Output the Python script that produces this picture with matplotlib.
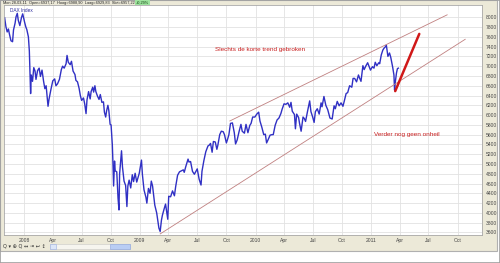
import matplotlib
matplotlib.use('Agg')
import matplotlib.pyplot as plt
import matplotlib.patches as mpatches
import pandas as pd

plt.rcParams['font.family'] = ['Liberation Sans', 'DejaVu Sans']

# DAX closes (roughly weekly)
dates = [
    '2007-11-01', '2007-11-05', '2007-11-09', '2007-11-13', '2007-11-16', '2007-11-21', '2007-11-26',
    '2007-11-29', '2007-12-04', '2007-12-07', '2007-12-11', '2007-12-14', '2007-12-19', '2007-12-24',
    '2007-12-28', '2008-01-03', '2008-01-07', '2008-01-10', '2008-01-15', '2008-01-18', '2008-01-22',
    '2008-01-24', '2008-01-28', '2008-02-01', '2008-02-05', '2008-02-08', '2008-02-13', '2008-02-18',
    '2008-02-22', '2008-02-27', '2008-03-03', '2008-03-07', '2008-03-11', '2008-03-17', '2008-03-20',
    '2008-03-26', '2008-04-01', '2008-04-07', '2008-04-11', '2008-04-16', '2008-04-22', '2008-04-28',
    '2008-05-02', '2008-05-07', '2008-05-13', '2008-05-16', '2008-05-20', '2008-05-26', '2008-05-30',
    '2008-06-04', '2008-06-10', '2008-06-13', '2008-06-18', '2008-06-23', '2008-06-27', '2008-07-01',
    '2008-07-07', '2008-07-11', '2008-07-15', '2008-07-18', '2008-07-23', '2008-07-28', '2008-07-31',
    '2008-08-05', '2008-08-08', '2008-08-12', '2008-08-15', '2008-08-20', '2008-08-25', '2008-08-29',
    '2008-09-03', '2008-09-08', '2008-09-11', '2008-09-15', '2008-09-18', '2008-09-22', '2008-09-25',
    '2008-09-29', '2008-10-02', '2008-10-06', '2008-10-08', '2008-10-10', '2008-10-13', '2008-10-15',
    '2008-10-20', '2008-10-24', '2008-10-27', '2008-10-29', '2008-11-04', '2008-11-07', '2008-11-12',
    '2008-11-17', '2008-11-21', '2008-11-24', '2008-11-28', '2008-12-03', '2008-12-08', '2008-12-12',
    '2008-12-17', '2008-12-22', '2008-12-30', '2009-01-06', '2009-01-09', '2009-01-14', '2009-01-20',
    '2009-01-23', '2009-01-28', '2009-02-02', '2009-02-06', '2009-02-10', '2009-02-17', '2009-02-23',
    '2009-03-02', '2009-03-06', '2009-03-10', '2009-03-13', '2009-03-18', '2009-03-23', '2009-03-30',
    '2009-04-02', '2009-04-08', '2009-04-14', '2009-04-20', '2009-04-24', '2009-04-30', '2009-05-06',
    '2009-05-12', '2009-05-18', '2009-05-21', '2009-05-26', '2009-06-02', '2009-06-05', '2009-06-10',
    '2009-06-16', '2009-06-22', '2009-06-26', '2009-07-01', '2009-07-07', '2009-07-13', '2009-07-16',
    '2009-07-22', '2009-07-28', '2009-08-04', '2009-08-07', '2009-08-12', '2009-08-17', '2009-08-21',
    '2009-08-27', '2009-09-01', '2009-09-04', '2009-09-10', '2009-09-15', '2009-09-21', '2009-09-25',
    '2009-10-01', '2009-10-05', '2009-10-09', '2009-10-14', '2009-10-20', '2009-10-26', '2009-10-30',
    '2009-11-04', '2009-11-10', '2009-11-16', '2009-11-20', '2009-11-27', '2009-12-02', '2009-12-08',
    '2009-12-14', '2009-12-18', '2009-12-23', '2009-12-30', '2010-01-05', '2010-01-11', '2010-01-15',
    '2010-01-21', '2010-01-27', '2010-02-01', '2010-02-05', '2010-02-10', '2010-02-16', '2010-02-22',
    '2010-02-26', '2010-03-04', '2010-03-10', '2010-03-16', '2010-03-22', '2010-03-26', '2010-04-01',
    '2010-04-07', '2010-04-13', '2010-04-19', '2010-04-23', '2010-04-27', '2010-05-04', '2010-05-07',
    '2010-05-11', '2010-05-17', '2010-05-20', '2010-05-25', '2010-05-31', '2010-06-04', '2010-06-08',
    '2010-06-14', '2010-06-21', '2010-06-25', '2010-06-30', '2010-07-05', '2010-07-09', '2010-07-15',
    '2010-07-21', '2010-07-27', '2010-07-30', '2010-08-05', '2010-08-11', '2010-08-17', '2010-08-24',
    '2010-08-31', '2010-09-06', '2010-09-10', '2010-09-16', '2010-09-22', '2010-09-28', '2010-10-04',
    '2010-10-08', '2010-10-14', '2010-10-19', '2010-10-25', '2010-11-01', '2010-11-05', '2010-11-10',
    '2010-11-16', '2010-11-22', '2010-11-26', '2010-11-30', '2010-12-06', '2010-12-10', '2010-12-15',
    '2010-12-21', '2010-12-30', '2011-01-05', '2011-01-10', '2011-01-14', '2011-01-19', '2011-01-25',
    '2011-01-28', '2011-02-02', '2011-02-07', '2011-02-11', '2011-02-17', '2011-02-18', '2011-02-23',
    '2011-02-28', '2011-03-04', '2011-03-10', '2011-03-14', '2011-03-16', '2011-03-18', '2011-03-22',
    '2011-03-25', '2011-03-28',
]
closes = [
    7990, 7810, 7700, 7760, 7660, 7520, 7500,
    7740, 7880, 8010, 8080, 7940, 7830, 7990,
    8070, 7900, 7800, 7750, 7600, 7310, 6440,
    6820, 6690, 6970, 6900, 6730, 6910, 6960,
    6790, 6920, 6690, 6540, 6600, 6180, 6320,
    6520, 6700, 6740, 6600, 6640, 6730, 6930,
    7000, 6960, 7050, 7220, 7080, 7030, 7100,
    6900, 6830, 6710, 6680, 6550, 6400, 6300,
    6350, 6220, 6030, 6310, 6480, 6330, 6480,
    6570, 6470, 6600, 6480, 6390, 6320, 6420,
    6260, 6270, 6060, 5960, 6090, 6200, 6090,
    5810, 5800, 5390, 5010, 4550, 5060, 4860,
    4840, 4300, 4060, 4800, 5270, 4940, 4650,
    4560, 4130, 4550, 4670, 4510, 4780, 4640,
    4810, 4630, 4810, 5080, 4780, 4470, 4320,
    4200, 4500, 4400, 4650, 4550, 4160, 4000,
    3690, 3620, 3850, 3950, 4070, 4180, 3870,
    4340, 4330, 4450, 4350, 4540, 4770, 4840,
    4860, 4880, 4830, 4950, 5100, 5040, 5050,
    4850, 4790, 4840, 4900, 4690, 4570, 4850,
    5070, 5250, 5370, 5380, 5420, 5240, 5460,
    5450, 5300, 5380, 5600, 5670, 5660, 5600,
    5430, 5510, 5600, 5830, 5840, 5640, 5410,
    5490, 5660, 5810, 5670, 5630, 5810, 5640,
    5790, 5830, 5960, 5960, 6020, 6060, 5880,
    5750, 5600, 5610, 5430, 5500, 5590, 5600,
    5600, 5790, 5900, 5940, 6030, 6120, 6230,
    6220, 6250, 6160, 6260, 6080, 6010, 5720,
    6020, 5950, 5830, 5670, 5960, 5930, 5870,
    6070, 6290, 6070, 5970, 5850, 6070, 6130,
    6020, 6250, 6170, 6380, 6200, 6110, 5940,
    5920, 6190, 6130, 6280, 6190, 6250, 6180,
    6280, 6440, 6460, 6600, 6570, 6750, 6750,
    6680, 6820, 6750, 6690, 7010, 6930, 7000,
    7070, 6920, 6990, 6960, 7080, 7010, 7070,
    7050, 7230, 7330, 7370, 7410, 7430, 7200,
    7270, 7180, 6980, 6820, 6510, 6660, 6860,
    6950, 6960,
]

# trend lines (start, end) in date / index value
upper_dates = ['2009-10-12', '2011-08-29']
upper_vals = [5880, 8050]
lower_dates = ['2009-03-06', '2011-10-25']
lower_vals = [3570, 7550]
short_dates = ['2011-03-18', '2011-06-02']
short_vals = [6490, 7660]

ytick_vals = list(range(3600, 8001, 200))
xtick_dates = pd.date_range('2008-01-01', '2011-10-01', freq='QS')
xtick_labels = [str(d.year) if d.month == 1 else d.strftime('%b') for d in xtick_dates]

header = 'Mon 28-03-11  Open=6937,17  Hoog=6988,90  Laag=6929,83  Slot=6957,22'

beige = '#ece9d8'
W, H = 500, 263

fig = plt.figure(figsize=(5, 2.63), dpi=100)
fig.patches.append(mpatches.Rectangle((0, 1 - 251 / H), 497 / W, 251 / H, transform=fig.transFigure,
                                      facecolor=beige, edgecolor='#b0b0b0', lw=0.8, zorder=-2))
fig.patches.append(mpatches.Rectangle((0, 0), 1, 1, transform=fig.transFigure,
                                      fill=False, edgecolor='#a0a0a0', lw=1.2, zorder=-1))

ax = fig.add_axes([4 / W, 1 - 235 / H, 478 / W, 230 / H])
ax.set_facecolor('white')

x = pd.to_datetime(dates)
ax.plot(x, closes, color='#3030c4', lw=1.0)

ax.plot(pd.to_datetime(upper_dates), upper_vals, color='#c08080', lw=0.6)
ax.plot(pd.to_datetime(lower_dates), lower_vals, color='#c08080', lw=0.6)
ax.plot(pd.to_datetime(short_dates), short_vals, color='#d01818', lw=1.8, solid_capstyle='round')

ax.text(pd.Timestamp('2010-01-15'), 7350, 'Slechts de korte trend gebroken', color='#c81e1e',
        fontsize=4.6, ha='center', va='center')
ax.text(pd.Timestamp('2011-04-25'), 5610, 'Verder nog geen onheil', color='#c81e1e',
        fontsize=4.6, ha='center', va='center')
ax.text(0.012, 0.985, 'DAX Index', transform=ax.transAxes, color='#3030a0', fontsize=3.4,
        ha='left', va='top')

ax.set_xlim(pd.Timestamp('2007-10-30'), pd.Timestamp('2011-12-17'))
ax.set_ylim(3548, 8251)

ax.yaxis.tick_right()
ax.set_yticks(ytick_vals)
ax.set_yticklabels([str(v) for v in ytick_vals])
ax.set_xticks(xtick_dates)
ax.set_xticklabels(xtick_labels)
ax.tick_params(axis='both', length=0, labelsize=3.6, labelcolor='#444444')
ax.tick_params(axis='y', pad=3)
ax.tick_params(axis='x', pad=2.5)
ax.grid(True, color='#e2e2e2', lw=0.6)
ax.set_axisbelow(True)
for s in ax.spines.values():
    s.set_color('#a8a8a8')
    s.set_linewidth(0.6)

# header bar with quote info
fig.text(3 / W, 1 - 2.6 / H, header, fontsize=2.75, color='#222222', ha='left', va='center')
fig.text(136 / W, 1 - 2.6 / H, '+0,29%', fontsize=2.75, color='#114411', ha='left', va='center',
         bbox=dict(boxstyle='square,pad=0.15', facecolor='#9ee39e', edgecolor='none'))

# little toolbar + scrollbar under the chart
fig.text(3 / W, 1 - 246.5 / H, 'Q \u25be \u2295 Q \u2194 \u21e5 \u21a9 \u2195', fontsize=3.6,
         color='#333333', ha='left', va='center', family=['DejaVu Sans'])
fig.patches.append(mpatches.Rectangle((50 / W, 1 - 249 / H), 80 / W, 5 / H, transform=fig.transFigure,
                                      facecolor='#f6f5ef', edgecolor='#c8c8c8', lw=0.4))
fig.patches.append(mpatches.Rectangle((50 / W, 1 - 249 / H), 6 / W, 5 / H, transform=fig.transFigure,
                                      facecolor='#dce6f8', edgecolor='#9aaee0', lw=0.4))
fig.patches.append(mpatches.Rectangle((110 / W, 1 - 249 / H), 20 / W, 5 / H, transform=fig.transFigure,
                                      facecolor='#b9cdf4', edgecolor='#8aa2dc', lw=0.4))

fig.savefig('out.png', dpi=100, facecolor='white')
